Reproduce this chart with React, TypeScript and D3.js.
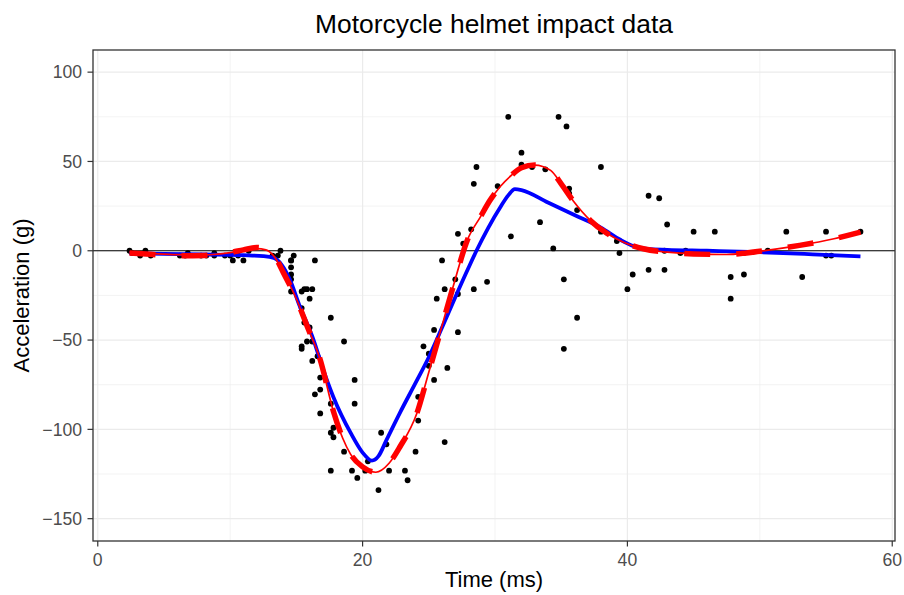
import React, { useRef, useEffect } from "react";
import * as d3 from "d3";

// mcycle data: time after impact (ms) and head acceleration (g)
const times = [2.4, 2.6, 3.2, 3.6, 4.0, 6.2, 6.6, 6.8, 7.8, 8.2, 8.8, 8.8, 9.6, 10.0, 10.2, 10.6, 11.0, 11.4, 13.2, 13.6, 13.8, 14.6, 14.6, 14.6, 14.6, 14.6, 14.6, 14.8, 15.4, 15.4, 15.4, 15.4, 15.6, 15.6, 15.8, 15.8, 16.0, 16.0, 16.2, 16.2, 16.2, 16.4, 16.4, 16.6, 16.8, 16.8, 16.8, 17.6, 17.6, 17.6, 17.6, 17.8, 17.8, 18.6, 18.6, 19.2, 19.4, 19.4, 19.6, 20.2, 20.4, 21.2, 21.4, 21.8, 22.0, 23.2, 23.4, 24.0, 24.2, 24.2, 24.6, 25.0, 25.0, 25.4, 25.4, 25.6, 26.0, 26.2, 26.2, 26.4, 27.0, 27.2, 27.2, 27.2, 27.6, 28.2, 28.4, 28.4, 28.6, 29.4, 30.2, 31.0, 31.2, 32.0, 32.0, 32.8, 33.4, 33.8, 34.4, 34.8, 35.2, 35.2, 35.4, 35.6, 35.6, 36.2, 36.2, 38.0, 38.0, 39.2, 39.4, 40.0, 40.4, 41.6, 41.6, 42.4, 42.8, 42.8, 43.0, 44.0, 44.4, 45.0, 46.6, 47.8, 47.8, 48.8, 50.6, 52.0, 53.2, 55.0, 55.0, 55.4, 57.6];
const accel = [0.0, -1.3, -2.7, 0.0, -2.7, -2.7, -2.7, -1.3, -2.7, -2.7, -1.3, -2.7, -2.7, -2.7, -5.4, -2.7, -5.4, 0.0, -2.7, -2.7, 0.0, -13.3, -5.4, -5.4, -9.3, -16.0, -22.8, -2.7, -22.8, -32.1, -53.5, -54.9, -40.2, -21.5, -21.5, -50.8, -42.9, -26.8, -21.5, -50.8, -61.7, -5.4, -80.4, -59.0, -71.0, -91.1, -77.7, -37.5, -85.6, -123.1, -101.9, -99.1, -104.4, -112.5, -50.8, -123.1, -85.6, -72.3, -127.2, -123.1, -117.9, -134.0, -101.9, -108.4, -123.1, -123.1, -128.5, -112.5, -95.1, -81.8, -53.5, -64.4, -57.6, -72.3, -44.3, -26.8, -5.4, -107.1, -21.5, -65.6, -16.0, -45.6, -24.2, 9.5, 4.0, 12.0, -21.5, 37.5, 46.9, -17.4, 36.2, 75.0, 8.1, 54.9, 48.2, 46.9, 16.0, 45.6, 1.3, 75.0, -16.0, -54.9, 69.6, 34.8, 32.1, -37.5, 22.8, 46.9, 10.7, 5.4, -1.3, -21.5, -13.3, 30.8, -10.7, 29.4, 0.0, -10.7, 14.7, -1.3, 0.0, 10.7, 10.7, -26.8, -14.7, -13.3, 0.0, 10.7, -14.7, -2.7, 10.7, -2.7, 10.7];

// fitted curves
const blueT = [2.4, 5, 8, 11, 12.5, 13.3, 13.9, 14.5, 15.2, 16.3, 17, 17.8, 19.1, 20, 20.7, 21.2, 21.8, 22.8, 24.1, 25, 26, 27, 28, 28.6, 29.5, 30.4, 31, 31.5, 32, 34, 36, 38, 39.5, 40.5, 41.5, 43, 46, 50, 54, 57.6];
const blueA = [-1.5, -1.8, -2.1, -2.5, -3, -4, -8, -16, -30, -50, -66, -82, -102, -113, -117.5, -115, -106, -91, -72.6, -59.6, -43, -26, -9.5, 0, 13, 24.4, 31, 34.5, 34, 27, 20, 13, 6, 2.5, 1, 0.5, 0, -0.8, -2, -3.2];

const redT = [2.4, 4, 6, 8, 10, 11, 12, 12.7, 13.3, 14, 15, 15.8, 16.8, 17.8, 18.5, 19.1, 20, 21, 22, 22.8, 24.1, 25, 26, 26.9, 27.9, 28.9, 29.6, 30.4, 31.2, 32, 33, 34.2, 35, 35.9, 37.2, 38.5, 39.7, 41.2, 43, 45, 47.5, 49, 50.5, 53, 55.6, 57.6];
const redA = [-0.8, -1.5, -2.2, -2.3, -1, 0.3, 1.2, 0.5, -3, -12, -27, -42, -61, -90, -105, -114, -121, -124, -119, -110, -91, -68, -42, -18.5, 5.8, 19, 28, 36, 42, 46.5, 48, 45, 37.5, 28, 17, 9.5, 4.8, 1.1, -0.8, -1.8, -2.1, -1.2, 0.2, 3, 6.7, 10.4];

const dashT = [2.4, 4, 6, 8, 10, 11, 12, 12.8, 13.4, 14, 15, 15.8, 16.8, 17.8, 18.5, 19.1, 20, 21, 22, 22.8, 24.1, 25, 26, 26.9, 27.9, 28.9, 29.6, 30.4, 31.2, 32, 33, 34.2, 35, 35.9, 37.2, 38.5, 39.7, 41.2, 43, 45, 47.5, 49, 50.5, 53, 55.6, 57.6];
const dashA = [-1.2, -2, -2.8, -2.6, -1, 0.5, 1.8, 0.8, -3.5, -12, -27, -42, -61, -90, -105, -114, -121, -124, -119, -110, -91, -68, -42, -18.5, 5.8, 19, 28, 36, 42, 46.5, 48, 45, 37.5, 28, 17, 9.5, 4.8, 1.1, -0.8, -1.8, -2.1, -1.2, 0.2, 3, 6.7, 10.4];

const xTicks = [0, 20, 40, 60];
const xMinor = [10, 30, 50];
const yTicks = [-150, -100, -50, 0, 50, 100];
const yMinor = [-125, -75, -25, 25, 75];

const W = 904;
const H = 595;
const FONT = "'Liberation Sans', Arial, sans-serif";

export default function App() {
  const svgRef = useRef<SVGSVGElement>(null);

  useEffect(() => {
    const svg = d3.select(svgRef.current);
    svg.selectAll("*").remove();

    const left = 93, right = 895, top = 50, bottom = 541;

    const x = d3.scaleLinear().domain([-0.36, 60.36]).range([left, 897]);
    const y = d3.scaleLinear().domain([-162.5, 112.4]).range([bottom, top]);

    svg.append("rect").attr("width", W).attr("height", H).attr("fill", "white");

    // grid
    const grid = svg.append("g");
    grid.selectAll(".xmin").data(xMinor).join("line")
      .attr("x1", (d) => x(d)).attr("x2", (d) => x(d))
      .attr("y1", top).attr("y2", bottom)
      .attr("stroke", "#EBEBEB").attr("stroke-width", 0.6);
    grid.selectAll(".ymin").data(yMinor).join("line")
      .attr("x1", left).attr("x2", right)
      .attr("y1", (d) => y(d)).attr("y2", (d) => y(d))
      .attr("stroke", "#EBEBEB").attr("stroke-width", 0.6);
    grid.selectAll(".xmaj").data(xTicks).join("line")
      .attr("x1", (d) => x(d)).attr("x2", (d) => x(d))
      .attr("y1", top).attr("y2", bottom)
      .attr("stroke", "#EBEBEB").attr("stroke-width", 1.2);
    grid.selectAll(".ymaj").data(yTicks).join("line")
      .attr("x1", left).attr("x2", right)
      .attr("y1", (d) => y(d)).attr("y2", (d) => y(d))
      .attr("stroke", "#EBEBEB").attr("stroke-width", 1.2);

    // zero line
    svg.append("line")
      .attr("x1", left).attr("x2", right)
      .attr("y1", y(0)).attr("y2", y(0))
      .attr("stroke", "black").attr("stroke-width", 1.1);

    // points
    svg.append("g").selectAll("circle")
      .data(times.map((t, i) => [t, accel[i]]))
      .join("circle")
      .attr("cx", (d) => x(d[0]))
      .attr("cy", (d) => y(d[1]))
      .attr("r", 2.9)
      .attr("fill", "black");

    const line = d3.line<number>()
      .x((d) => x(d))
      .curve(d3.curveMonotoneX);

    const blue = d3.line<number>().x((d) => x(d)).y((d, i) => y(blueA[i])).curve(d3.curveMonotoneX);
    const red = d3.line<number>().x((d) => x(d)).y((d, i) => y(redA[i])).curve(d3.curveMonotoneX);
    const dash = d3.line<number>().x((d) => x(d)).y((d, i) => y(dashA[i])).curve(d3.curveMonotoneX);
    void line;

    svg.append("path").attr("d", blue(blueT))
      .attr("fill", "none").attr("stroke", "#0000FF").attr("stroke-width", 3.8)
      .attr("stroke-linejoin", "round");
    svg.append("path").attr("d", dash(dashT))
      .attr("fill", "none").attr("stroke", "#FF0000").attr("stroke-width", 5.5)
      .attr("stroke-dasharray", "26 26");
    svg.append("path").attr("d", red(redT))
      .attr("fill", "none").attr("stroke", "#FF0000").attr("stroke-width", 1.7);

    // panel border
    svg.append("rect")
      .attr("x", left).attr("y", top)
      .attr("width", right - left).attr("height", bottom - top)
      .attr("fill", "none").attr("stroke", "#333333").attr("stroke-width", 1.3);

    // axes
    const xAxis = svg.append("g");
    xAxis.selectAll("line").data(xTicks).join("line")
      .attr("x1", (d) => x(d)).attr("x2", (d) => x(d))
      .attr("y1", bottom).attr("y2", bottom + 5.5)
      .attr("stroke", "#333333").attr("stroke-width", 1.2);
    xAxis.selectAll("text").data(xTicks).join("text")
      .attr("x", (d) => x(d)).attr("y", bottom + 25)
      .attr("text-anchor", "middle")
      .attr("font-family", FONT).attr("font-size", 17.6).attr("fill", "#4D4D4D")
      .text((d) => d3.format("")(d));

    const yAxis = svg.append("g");
    yAxis.selectAll("line").data(yTicks).join("line")
      .attr("x1", left - 5.5).attr("x2", left)
      .attr("y1", (d) => y(d)).attr("y2", (d) => y(d))
      .attr("stroke", "#333333").attr("stroke-width", 1.2);
    yAxis.selectAll("text").data(yTicks).join("text")
      .attr("x", left - 11).attr("y", (d) => y(d) + 6.2)
      .attr("text-anchor", "end")
      .attr("font-family", FONT).attr("font-size", 17.6).attr("fill", "#4D4D4D")
      .text((d) => (d < 0 ? "\u2212" + Math.abs(d) : String(d)));

    // titles
    svg.append("text")
      .attr("x", (left + right) / 2).attr("y", 587)
      .attr("text-anchor", "middle")
      .attr("font-family", FONT).attr("font-size", 22).attr("fill", "black")
      .text("Time (ms)");
    svg.append("text")
      .attr("transform", `translate(29, ${(top + bottom) / 2}) rotate(-90)`)
      .attr("text-anchor", "middle")
      .attr("font-family", FONT).attr("font-size", 22).attr("fill", "black")
      .text("Acceleration (g)");
    svg.append("text")
      .attr("x", (left + right) / 2).attr("y", 33)
      .attr("text-anchor", "middle")
      .attr("font-family", FONT).attr("font-size", 26.4).attr("fill", "black")
      .text("Motorcycle helmet impact data");
  }, []);

  return (
    <svg
      ref={svgRef}
      width={W}
      height={H}
      style={{ position: "absolute", left: 0, top: 0, display: "block" }}
    />
  );
}
